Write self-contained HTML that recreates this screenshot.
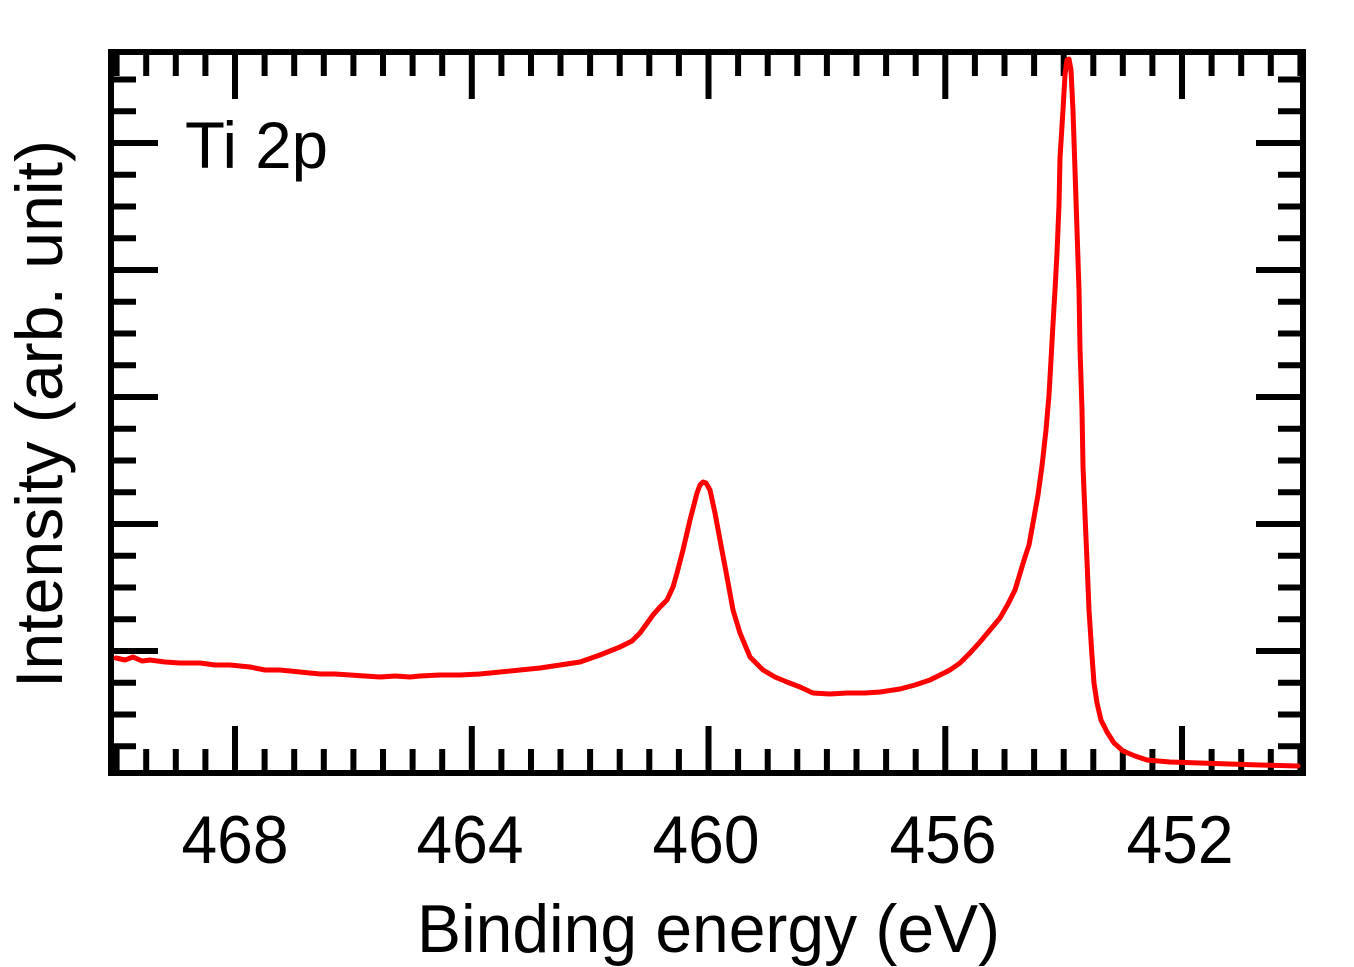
<!DOCTYPE html>
<html><head><meta charset="utf-8"><style>
html,body{margin:0;padding:0;background:#fff;}
svg{display:block;}
text{font-family:"Liberation Sans",Arial,sans-serif;fill:#000;}
</style></head><body>
<svg width="1354" height="967" viewBox="0 0 1354 967" xmlns="http://www.w3.org/2000/svg">
<g id="ticks" stroke="#000" stroke-width="6" fill="none"></g>
<rect x="111" y="52" width="1192" height="721" fill="none" stroke="#000" stroke-width="6"/>
<path fill="none" stroke="#ff0000" stroke-width="5" stroke-linejoin="round" stroke-linecap="round"
d="M116,658 L125,660 L133,657 L142,661 L150,660 L165,662 L180,663 L200,663 L215,665 L230,665 L250,667 L265,670 L280,670 L300,672 L320,674 L335,674 L350,675 L365,676 L380,677 L395,676 L410,677 L420,676 L440,675 L460,675 L480,674 L500,672 L520,670 L540,668 L560,665 L580,662 L600,655 L620,647 L632,641 L640,633 L653,615 L660,607 L667,600 L673,587 L677,573 L683,550 L690,520 L697,493 L700,485 L703,482 L706,483 L710,490 L715,513 L720,540 L727,577 L733,610 L740,633 L750,657 L763,670 L775,677 L787,682 L800,687 L813,693 L830,694 L847,693 L865,693 L880,692 L900,689 L915,685 L930,680 L950,670 L960,663 L970,653 L980,642 L990,630 L1000,618 L1008,604 L1015,590 L1025,557 L1029,545 L1033,523 L1038,495 L1042,466 L1046,430 L1049,395 L1051,360 L1053,324 L1055,290 L1057,253 L1059,205 L1060,158 L1063,110 L1065,75 L1067,60 L1069,59 L1071,70 L1073,111 L1075,170 L1077,230 L1079,290 L1080,348 L1082,410 L1083,466 L1085,515 L1087,561 L1089,610 L1092,656 L1094,683 L1097,703 L1101,720 L1107,732 L1114,743 L1123,751 L1135,756 L1147,760 L1170,762 L1200,763 L1230,764 L1260,765 L1298,766"/>
<text x="185" y="168" font-size="66" textLength="143" lengthAdjust="spacingAndGlyphs">Ti 2p</text>
<g font-size="68" text-anchor="middle">
<text x="235" y="863" textLength="107" lengthAdjust="spacingAndGlyphs">468</text>
<text x="470" y="863" textLength="107" lengthAdjust="spacingAndGlyphs">464</text>
<text x="706" y="863" textLength="107" lengthAdjust="spacingAndGlyphs">460</text>
<text x="943" y="863" textLength="107" lengthAdjust="spacingAndGlyphs">456</text>
<text x="1180" y="863" textLength="107" lengthAdjust="spacingAndGlyphs">452</text>
</g>
<text x="417" y="952" font-size="68" textLength="583" lengthAdjust="spacingAndGlyphs">Binding energy (eV)</text>
<text transform="translate(62,688) rotate(-90)" font-size="66" textLength="548" lengthAdjust="spacingAndGlyphs">Intensity (arb. unit)</text>
<script>
(function(){
var g=document.getElementById('ticks'),d='';
for(var i=0;i<=40;i++){var E=470-i*0.5;var x=235+(468-E)*59.19;var maj=(Math.abs(E%4)<1e-6);var L=maj?47:24;
d+='M'+x.toFixed(1)+',773 V'+(773-L)+' M'+x.toFixed(1)+',52 V'+(52+L)+' ';}
for(var k=-3;k<=18;k++){var y=651-k*31.75;var maj=(((k%4)+4)%4===0);var L=maj?47:25;
d+='M111,'+y.toFixed(1)+' H'+(111+L)+' M1303,'+y.toFixed(1)+' H'+(1303-L)+' ';}
var p=document.createElementNS('http://www.w3.org/2000/svg','path');p.setAttribute('d',d);g.appendChild(p);
})();
</script>
</svg>
</body></html>
